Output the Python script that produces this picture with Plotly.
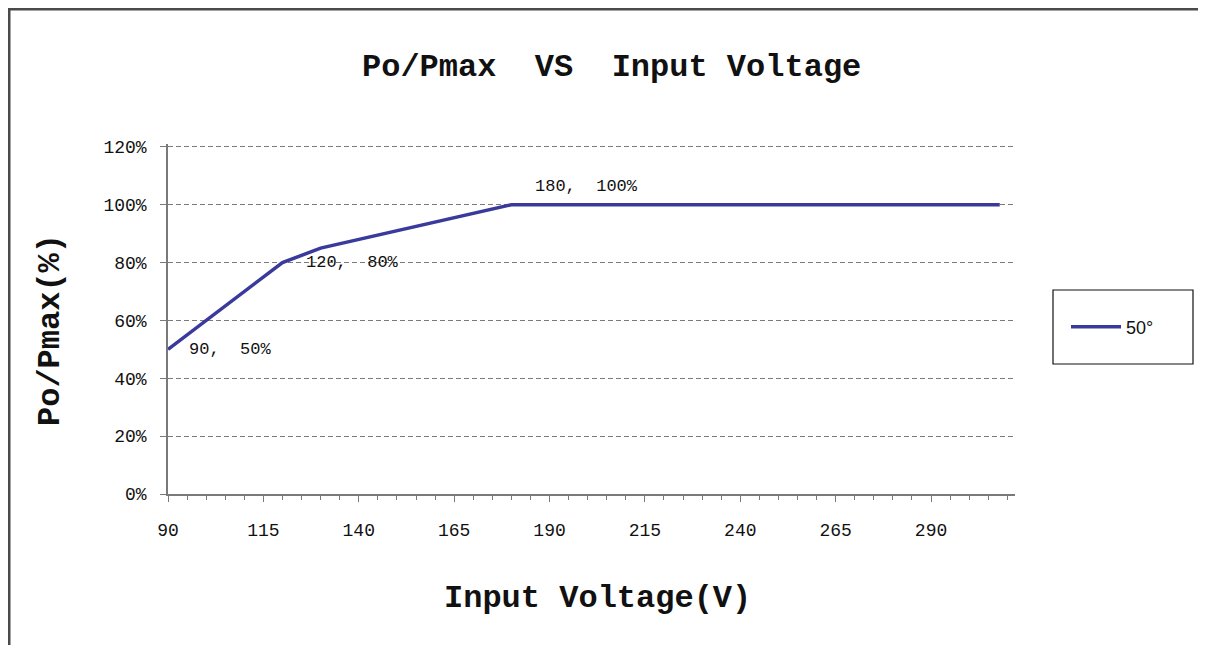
import plotly.graph_objects as go

# ---- data ----
voltage = [90, 120, 130, 180, 308]
po_pmax = [50, 80, 85, 100, 100]
series_name = "50°"
label_points = [(90, 50, "90,  50%"), (120, 80, "120,  80%"), (180, 100, "180,  100%")]
x_tick0, x_dtick, x_minor = 90, 25, 5
y_ticks = [0, 20, 40, 60, 80, 100, 120]
y_ticktext = [f"{v}%" for v in y_ticks]

OFF = 8  # page body margin
Y_MAX = 121
W, H = 1206 - OFF, 645 - OFF
T_REF = 494 - (494 - 147) * Y_MAX / 120
L, R, T, B = 168 - OFF, 1015 - OFF, round(T_REF) - OFF, 494 - OFF  # plot area in figure pixels


def px(xp):
    return (xp - OFF - L) / (R - L)


def py(yp):
    return (B - (yp - OFF)) / (B - T)


mono = "Liberation Mono"
line_col = "#3a3a9c"
grid_col = "#7a7a7a"

fig = go.Figure()
fig.add_trace(go.Scatter(x=voltage, y=po_pmax, mode="lines", name=series_name,
                         line=dict(color=line_col, width=3.5)))

for vx, vy, txt in label_points:
    ys = 18 if vy == 100 else 0
    xs = 22 if vy != 50 else 19
    fig.add_annotation(x=vx, y=vy, xref="x", yref="y", text=txt, showarrow=False,
                       xanchor="left", yanchor="middle", xshift=xs, yshift=ys,
                       font=dict(family=mono, size=17, color="#111"))

fig.update_layout(
    width=W, height=H,
    margin=dict(l=L, r=W - R, t=T, b=H - B, autoexpand=False),
    paper_bgcolor="white", plot_bgcolor="white",
    showlegend=True,
    legend=dict(x=px(1066), y=py(327), xanchor="left", yanchor="middle",
                bgcolor="rgba(0,0,0,0)", borderwidth=0,
                font=dict(family="Liberation Sans", size=18, color="#111"),
                itemwidth=50),
    xaxis=dict(range=[90, 312], tickmode="linear", tick0=x_tick0, dtick=x_dtick,
               showgrid=False, zeroline=False, showline=True, linecolor=grid_col, linewidth=1.5,
               ticks="outside", ticklen=6, tickcolor=grid_col, tickwidth=1,
               minor=dict(dtick=x_minor, tick0=x_tick0, ticks="outside", ticklen=4,
                          tickcolor=grid_col, showgrid=False),
               tickfont=dict(family=mono, size=18, color="#111"), ticklabelstandoff=13),
    yaxis=dict(range=[0, Y_MAX], tickmode="array", tickvals=y_ticks, ticktext=y_ticktext,
               showgrid=True, gridcolor=grid_col, griddash="5px,3px", gridwidth=1,
               zeroline=False, showline=True, linecolor=grid_col, linewidth=1.5,
               ticks="outside", ticklen=6, tickcolor=grid_col,
               tickfont=dict(family=mono, size=18, color="#111"), ticklabelstandoff=10),
)

# titles
fig.add_annotation(x=px(611), y=py(67), xref="paper", yref="paper", showarrow=False,
                   text="<b>Po/Pmax  VS  Input Voltage</b>", xanchor="center", yanchor="middle",
                   font=dict(family=mono, size=32, color="#111"))
fig.add_annotation(x=px(597), y=py(598), xref="paper", yref="paper", showarrow=False,
                   text="<b>Input Voltage(V)</b>", xanchor="center", yanchor="middle",
                   font=dict(family=mono, size=32, color="#111"))
fig.add_annotation(x=px(50), y=py(330), xref="paper", yref="paper", showarrow=False,
                   text="<b>Po/Pmax(%)</b>", textangle=-90, xanchor="center", yanchor="middle",
                   font=dict(family=mono, size=32, color="#111"))

# legend box and outer frame
fig.add_shape(type="rect", xref="paper", yref="paper", x0=px(1053), x1=px(1193),
              y0=py(364), y1=py(290), line=dict(color="#111", width=1.2))
fig.add_shape(type="rect", xref="paper", yref="paper", x0=px(9), x1=px(1200.5),
              y0=py(660), y1=py(9), line=dict(color="#4a4a4a", width=3))

fig.write_html("out.html")
